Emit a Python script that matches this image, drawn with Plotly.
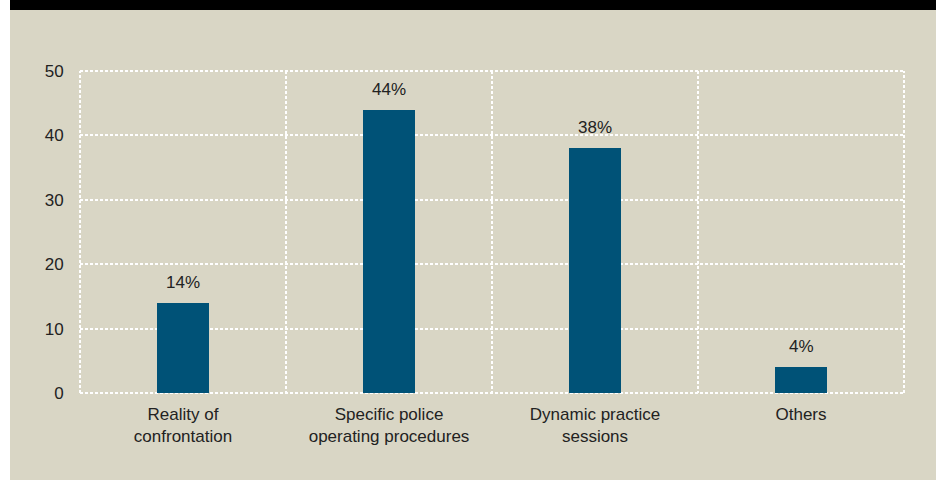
import plotly.graph_objects as go

# Survey answers: share of respondents per training need (%)
categories = [
    "Reality of<br>confrontation",
    "Specific police<br>operating procedures",
    "Dynamic practice<br>sessions",
    "Others",
]
shares = [14, 44, 38, 4]
value_labels = ["14%", "44%", "38%", "4%"]
y_ticks = [0, 10, 20, 30, 40, 50]

BEIGE = "#d9d6c5"
BAR = "#005277"
TEXT = "#222222"
FONT = "Liberation Sans, Arial, sans-serif"
DASH = "3px,2px"

# plot-area geometry in pixels (used only to place the frame decorations)
W, H = 936, 480
L, R, T, B = 80, 32, 71, 87
pw, ph = W - L - R, H - T - B


def px_x(p):
    return (p - L) / pw


def px_y(p):
    return (H - B - p) / ph


fig = go.Figure()
fig.add_trace(
    go.Bar(
        x=categories,
        y=shares,
        marker=dict(color=BAR, line=dict(width=0)),
        width=0.25,
        hoverinfo="skip",
    )
)

for cat, val, lab in zip(categories, shares, value_labels):
    fig.add_annotation(
        x=cat, y=val, xref="x", yref="y",
        text=lab, showarrow=False,
        yanchor="bottom", yshift=9,
        font=dict(family=FONT, size=17, color=TEXT),
    )

grid = dict(showgrid=True, gridcolor="white", gridwidth=2, griddash=DASH)

fig.update_xaxes(
    type="category",
    tickson="boundaries",
    ticks="",
    showline=False,
    zeroline=False,
    ticklabelstandoff=9,
    tickfont=dict(family=FONT, size=17, color=TEXT),
    range=[-0.5, 3.5],
    **grid,
)
fig.update_yaxes(
    range=[0, 50],
    tickvals=y_ticks,
    ticks="outside",
    ticklen=12,
    tickcolor=BEIGE,
    showline=False,
    zeroline=False,
    tickfont=dict(family=FONT, size=17, color=TEXT),
    **grid,
)

# dotted frame around the plot area (edge grid lines)
frame = dict(color="white", width=2, dash=DASH)
for x0, y0, x1, y1 in [(0, 0, 1, 0), (0, 1, 1, 1), (0, 0, 0, 1), (1, 0, 1, 1)]:
    fig.add_shape(type="line", xref="paper", yref="paper", layer="below",
                  x0=x0, y0=y0, x1=x1, y1=y1, line=frame)

# white page margin on the left and black header band on top
fig.add_shape(type="rect", xref="paper", yref="paper", layer="below",
              x0=px_x(0), x1=px_x(10), y0=px_y(H), y1=px_y(0),
              fillcolor="white", line=dict(width=0))
fig.add_shape(type="rect", xref="paper", yref="paper", layer="below",
              x0=px_x(10), x1=px_x(W), y0=px_y(10), y1=px_y(0),
              fillcolor="black", line=dict(width=0))

fig.update_layout(
    width=W,
    height=H,
    margin=dict(l=L, r=R, t=T, b=B, pad=0),
    paper_bgcolor=BEIGE,
    plot_bgcolor=BEIGE,
    showlegend=False,
    bargap=0,
)

fig.write_html("out.html")
